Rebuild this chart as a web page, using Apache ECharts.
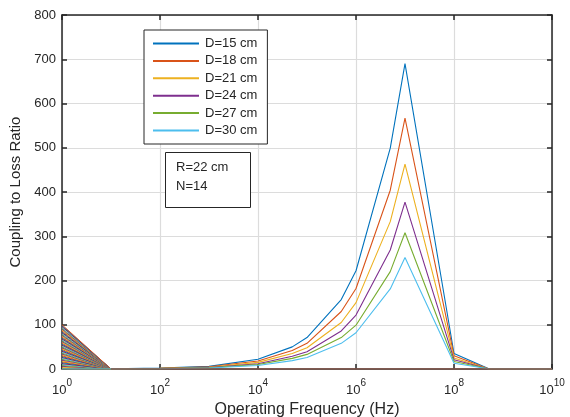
<!DOCTYPE html>
<html>
<head>
<meta charset="utf-8">
<script src="https://cdn.jsdelivr.net/npm/echarts@6/dist/echarts.min.js"></script>
<style>
  html, body { margin: 0; padding: 0; background: #fff; }
  #chart { width: 570px; height: 417px; }
</style>
</head>
<body>
<div id="chart"></div>
<script>
// Operating frequencies (Hz) shared by the six coupling curves
const freqs = [1, 10, 100, 1e3, 1e4, 5e4, 1e5, 5e5, 1e6, 5e6, 1e7, 1e8, 5e8, 1e10];

// Coupling-to-loss ratio for each coil separation D
const d15 = [0, 0.3, 2, 6, 22, 50, 71, 157, 222, 499, 690, 35, 1, 0];
const d18 = [0, 0.2, 1.6, 5, 18, 42, 58, 130, 182, 404, 567, 30, 0.8, 0];
const d21 = [0, 0.2, 1.3, 4, 15, 35, 48, 105, 150, 333, 463, 25, 0.7, 0];
const d24 = [0, 0.2, 1.1, 3.3, 12, 29, 39, 86, 122, 269, 377, 21, 0.5, 0];
const d27 = [0, 0.1, 0.9, 2.7, 10, 24, 33, 71, 99, 220, 308, 17, 0.4, 0];
const d30 = [0, 0.1, 0.7, 2.2, 8, 19, 26, 58, 82, 181, 252, 13, 0.4, 0];

const seriesNames = ['D=15 cm', 'D=18 cm', 'D=21 cm', 'D=24 cm', 'D=27 cm', 'D=30 cm'];

// Extra columns of the plotted matrix: each runs from its value at 1 Hz down to 0 at 10 Hz
const fanFreqs = [1, 10];
const fanStarts = [0, 2, 4, 6, 8, 10, 12, 14, 16, 18, 20, 22, 24, 26, 28, 30, 32, 34, 36, 38, 40,
  42, 44, 46, 48, 50, 52, 54, 56, 58, 60, 62, 64, 66, 68, 70, 72, 74, 76, 78, 80,
  82, 84, 86, 88, 90, 92, 94, 96, 98, 100];

// Zero line those columns continue along
const baseFreqs = [10, 1e10];
const baseValues = [0, 0];

// Axis ticks
const yTicks = [0, 100, 200, 300, 400, 500, 600, 700, 800];
const xTickExponents = [0, 2, 4, 6, 8, 10];

const palette = ['#0072BD', '#D95319', '#EDB120', '#7E2F8E', '#77AC30', '#4DBEEE', '#A2142F'];
const FONT = 'Liberation Sans, Arial, Helvetica, sans-serif';
const AX = '#262626';

const chart = echarts.init(document.getElementById('chart'), null, { renderer: 'canvas' });

const pairs = (xs, ys) => xs.map((x, i) => [x, ys[i]]);

const series = [];
fanStarts.forEach((v, i) => {
  series.push({
    name: 'fan' + i,
    type: 'line',
    data: pairs(fanFreqs, [v, 0]),
    symbol: 'none',
    silent: true,
    animation: false,
    lineStyle: { width: 1, color: palette[i % 7] },
    z: 2
  });
});
[d15, d18, d21, d24, d27, d30].forEach((vals, i) => {
  series.push({
    name: seriesNames[i],
    type: 'line',
    data: pairs(freqs, vals),
    symbol: 'none',
    animation: false,
    color: palette[i],
    lineStyle: { width: 1.1, color: palette[i] },
    z: 3
  });
});
series.push({
  name: 'base',
  type: 'line',
  data: pairs(baseFreqs, baseValues),
  symbol: 'none',
  silent: true,
  animation: false,
  lineStyle: { width: 1.5, color: '#8B5A4E' },
  z: 4
});

const supLabel = {
  formatter: v => {
    const e = Math.round(Math.log10(v));
    return xTickExponents.includes(e) ? '{b|10}{s|' + e + '}' : '';
  },
  margin: 9,
  rich: {
    b: { fontSize: 13, fontFamily: FONT, color: AX, verticalAlign: 'bottom', padding: [6, 0, 0, 0] },
    s: { fontSize: 10, fontFamily: FONT, color: AX, verticalAlign: 'top' }
  }
};

chart.setOption({
  animation: false,
  backgroundColor: '#fff',
  grid: { left: 62, right: 18, top: 15, bottom: 48, containLabel: false, outerBoundsMode: 'none' },
  legend: {
    data: seriesNames,
    orient: 'vertical',
    left: 144,
    top: 30,
    padding: [7, 10, 7, 9],
    itemGap: 4.4,
    itemWidth: 46,
    itemHeight: 2,
    icon: 'rect',
    backgroundColor: '#fff',
    borderColor: AX,
    borderWidth: 1,
    borderRadius: 0,
    textStyle: { fontFamily: FONT, fontSize: 13, color: AX, padding: [0, 0, 0, 1] }
  },
  xAxis: [{
    type: 'log',
    logBase: 10,
    min: 1,
    max: 1e10,
    interval: 2,
    position: 'bottom',
    name: 'Operating Frequency (Hz)',
    nameLocation: 'middle',
    nameGap: 33,
    nameTextStyle: { fontFamily: FONT, fontSize: 16, color: AX },
    axisLine: { show: true, onZero: false, lineStyle: { color: AX, width: 1.5 } },
    axisTick: { show: true, inside: true, length: 5, lineStyle: { color: AX, width: 1.5 } },
    minorTick: { show: false },
    axisLabel: supLabel,
    splitLine: { show: true, lineStyle: { color: '#dcdcdc', width: 1.2 } }
  }, {
    type: 'log',
    logBase: 10,
    min: 1,
    max: 1e10,
    interval: 2,
    position: 'top',
    axisLine: { show: true, onZero: false, lineStyle: { color: AX, width: 1.5 } },
    axisTick: { show: true, inside: true, length: 5, lineStyle: { color: AX, width: 1.5 } },
    axisLabel: { show: false },
    splitLine: { show: false }
  }],
  yAxis: [{
    type: 'value',
    min: 0,
    max: 800,
    interval: 100,
    position: 'left',
    name: 'Coupling to Loss Ratio',
    nameLocation: 'middle',
    nameGap: 36,
    nameTextStyle: { fontFamily: FONT, fontSize: 15, color: AX },
    axisLine: { show: true, lineStyle: { color: AX, width: 1.5 } },
    axisTick: { show: true, inside: true, length: 5, lineStyle: { color: AX, width: 1.5 } },
    axisLabel: {
      fontFamily: FONT, fontSize: 13, color: AX, margin: 6,
      formatter: v => (yTicks.includes(v) ? String(v) : '')
    },
    splitLine: { show: true, lineStyle: { color: '#dcdcdc', width: 1.2 } }
  }, {
    type: 'value',
    min: 0,
    max: 800,
    interval: 100,
    position: 'right',
    axisLine: { show: true, lineStyle: { color: AX, width: 1.5 } },
    axisTick: { show: true, inside: true, length: 5, lineStyle: { color: AX, width: 1.5 } },
    axisLabel: { show: false },
    splitLine: { show: false }
  }],
  graphic: [{
    type: 'rect',
    left: 165,
    top: 152,
    shape: { width: 85, height: 55 },
    style: { fill: '#fff', stroke: AX, lineWidth: 1 },
    z: 100
  }, {
    type: 'text',
    left: 176,
    top: 158,
    style: { text: 'R=22 cm\nN=14', font: '13px ' + FONT, fill: AX, lineHeight: 19 },
    z: 101
  }],
  series: series
});
</script>
</body>
</html>
